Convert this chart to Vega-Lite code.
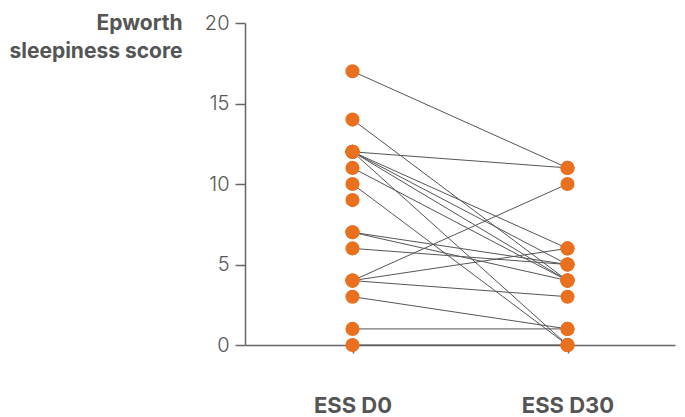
{
  "$schema": "https://vega.github.io/schema/vega-lite/v6.json",
  "width": 430,
  "height": 322,
  "autosize": "none",
  "padding": {"left": 245, "top": 23, "right": 10, "bottom": 72},
  "background": "white",
  "config": {
    "font": "Inter",
    "view": {"stroke": null}
  },
  "data": {
    "values": [
      {"id": 1, "time": "ESS D0", "score": 17}, {"id": 1, "time": "ESS D30", "score": 11},
      {"id": 2, "time": "ESS D0", "score": 14}, {"id": 2, "time": "ESS D30", "score": 4},
      {"id": 3, "time": "ESS D0", "score": 12}, {"id": 3, "time": "ESS D30", "score": 11},
      {"id": 4, "time": "ESS D0", "score": 12}, {"id": 4, "time": "ESS D30", "score": 6},
      {"id": 5, "time": "ESS D0", "score": 12}, {"id": 5, "time": "ESS D30", "score": 5},
      {"id": 6, "time": "ESS D0", "score": 12}, {"id": 6, "time": "ESS D30", "score": 4},
      {"id": 7, "time": "ESS D0", "score": 12}, {"id": 7, "time": "ESS D30", "score": 0},
      {"id": 8, "time": "ESS D0", "score": 11}, {"id": 8, "time": "ESS D30", "score": 4},
      {"id": 9, "time": "ESS D0", "score": 10}, {"id": 9, "time": "ESS D30", "score": 0},
      {"id": 10, "time": "ESS D0", "score": 9},
      {"id": 11, "time": "ESS D0", "score": 7}, {"id": 11, "time": "ESS D30", "score": 5},
      {"id": 12, "time": "ESS D0", "score": 7}, {"id": 12, "time": "ESS D30", "score": 4},
      {"id": 13, "time": "ESS D0", "score": 6}, {"id": 13, "time": "ESS D30", "score": 5},
      {"id": 14, "time": "ESS D0", "score": 4}, {"id": 14, "time": "ESS D30", "score": 10},
      {"id": 15, "time": "ESS D0", "score": 4}, {"id": 15, "time": "ESS D30", "score": 6},
      {"id": 16, "time": "ESS D0", "score": 4}, {"id": 16, "time": "ESS D30", "score": 3},
      {"id": 17, "time": "ESS D0", "score": 3}, {"id": 17, "time": "ESS D30", "score": 1},
      {"id": 18, "time": "ESS D0", "score": 1}, {"id": 18, "time": "ESS D30", "score": 1},
      {"id": 19, "time": "ESS D0", "score": 0}, {"id": 19, "time": "ESS D30", "score": 0}
    ]
  },
  "encoding": {
    "x": {
      "field": "time",
      "type": "ordinal",
      "sort": ["ESS D0", "ESS D30"],
      "scale": {"type": "point", "padding": 0.5},
      "axis": {
        "title": null,
        "labelAngle": 0,
        "labelFontSize": 22,
        "labelFontWeight": "bold",
        "labelColor": "#555555",
        "labelPadding": 42,
        "tickSize": 8,
        "tickColor": "#666666",
        "tickWidth": 1.5,
        "domainColor": "#666666",
        "domainWidth": 1.5,
        "grid": false
      }
    },
    "y": {
      "field": "score",
      "type": "quantitative",
      "scale": {"domain": [0, 20], "nice": false},
      "axis": {
        "values": [0, 5, 10, 15, 20],
        "title": ["Epworth", "sleepiness score"],
        "titleAngle": 0,
        "titleAlign": "right",
        "titleBaseline": "alphabetic",
        "titleX": -63,
        "titleY": 6,
        "titleLineHeight": 28,
        "titleFontSize": 21,
        "titleFontWeight": "bold",
        "titleColor": "#555555",
        "labelFontSize": 20,
        "labelFontWeight": 300,
        "labelColor": "#555555",
        "labelPadding": 6,
        "tickSize": 10,
        "tickColor": "#666666",
        "tickWidth": 1.5,
        "domainColor": "#666666",
        "domainWidth": 1.5,
        "grid": false
      }
    }
  },
  "layer": [
    {
      "mark": {"type": "line", "color": "#555555", "strokeWidth": 1},
      "encoding": {"detail": {"field": "id", "type": "nominal"}}
    },
    {
      "mark": {"type": "circle", "color": "#E8701F", "opacity": 1, "size": 200}
    }
  ]
}
